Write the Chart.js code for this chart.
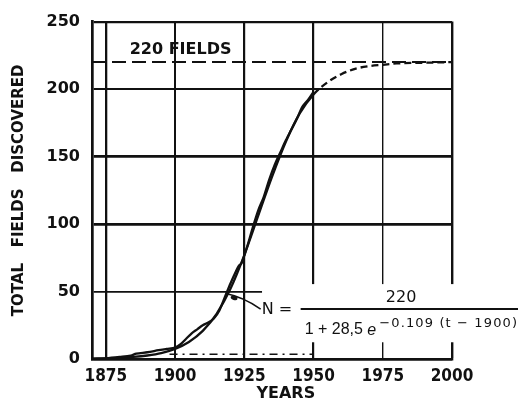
<!DOCTYPE html>
<html>
<head>
<meta charset="utf-8">
<script src="https://cdn.jsdelivr.net/npm/chart.js@4"></script>
<style>
  html, body { margin: 0; padding: 0; background: #fff; }
  canvas { display: block; }
</style>
</head>
<body>
<canvas id="myChart" width="522" height="401"></canvas>
<script>
// Cumulative discovered fields
const obsYears = [1870, 1875, 1880, 1884, 1886, 1890, 1894, 1897, 1900, 1902, 1904, 1906, 1908, 1910, 1912, 1914, 1916, 1918, 1920, 1922, 1923, 1924, 1926, 1928, 1930, 1932, 1934, 1936, 1938, 1940, 1942, 1944, 1946, 1948, 1950];
const obsValues = [0, 0.5, 1.5, 2.5, 4, 5, 6.5, 7.5, 8.5, 11, 15, 19, 22, 25, 27, 30, 36, 46, 56, 65, 69, 71, 83, 97, 110, 120, 133, 144, 153, 162, 170, 178, 187, 192, 198];

// Fitted logistic curve
const fitYears = [1870, 1875, 1880, 1885, 1890, 1895, 1900, 1905, 1910, 1915, 1920, 1925, 1930, 1935, 1940, 1945, 1950, 1955, 1960, 1965, 1970, 1975, 1980, 1990, 2000];
const fitValues = [0.3, 0.5, 0.9, 1.5, 2.6, 4.4, 7.5, 12.6, 20.8, 33.5, 52, 77, 106, 135, 161, 182, 196, 205, 211, 215, 217, 218, 219, 219.5, 220];

// Asymptote and low reference line
const limitYears = [1870, 2000];
const limitValues = [220, 220];
const baseYears = [1898, 1950];
const baseValues = [3.5, 3.5];

const xTicks = [1875, 1900, 1925, 1950, 1975, 2000];
const yTicks = [0, 50, 100, 150, 200, 250];

const ink = "#111";

const toPoints = (xs, ys) => xs.map((x, i) => ({ x: x, y: ys[i] }));

// draw a string spread out so it ends at xEnd
function spreadText(ctx, text, x0, xEnd, y) {
  const chars = Array.from(text);
  const natural = chars.reduce((w, ch) => w + ctx.measureText(ch).width, 0);
  const gap = (xEnd - x0 - natural) / (chars.length - 1);
  let x = x0;
  chars.forEach((ch) => {
    ctx.fillText(ch, x, y);
    x += ctx.measureText(ch).width + gap;
  });
}

// white patch behind the formula, breaking the grid like in the print
const formulaBox = {
  id: "formulaBox",
  beforeDatasetsDraw(chart) {
    const { ctx, scales } = chart;
    const x0 = scales.x.getPixelForValue(1931.4);
    const y0 = scales.y.getPixelForValue(55.5);
    const y1 = scales.y.getPixelForValue(12.4);
    ctx.save();
    ctx.fillStyle = "#fff";
    ctx.fillRect(x0, y0, chart.width - x0, y1 - y0);
    ctx.restore();
  },
  afterDraw(chart) {
    const { ctx, scales } = chart;
    const xs = scales.x, ys = scales.y;
    ctx.save();
    ctx.fillStyle = ink;
    ctx.strokeStyle = ink;

    // "220 FIELDS" label
    ctx.font = "bold 16px 'DejaVu Sans'";
    ctx.textAlign = "center";
    ctx.textBaseline = "middle";
    ctx.fillText("220 FIELDS", xs.getPixelForValue(1902), ys.getPixelForValue(229));

    // x axis title
    ctx.fillText("YEARS", xs.getPixelForValue(1940), chart.chartArea.bottom + 35);

    // leader from the curve to N
    const sx = xs.getPixelForValue(1918.3), sy = ys.getPixelForValue(48.5);
    const ex = xs.getPixelForValue(1930.9), ey = ys.getPixelForValue(37);
    ctx.lineWidth = 1.6;
    ctx.beginPath();
    ctx.moveTo(sx, sy);
    ctx.quadraticCurveTo(xs.getPixelForValue(1924.5), ys.getPixelForValue(46), ex, ey);
    ctx.stroke();
    ctx.beginPath();
    ctx.ellipse(xs.getPixelForValue(1921.3), ys.getPixelForValue(45.2), 3.5, 2, 0.35, 0, Math.PI * 2);
    ctx.fill();

    // formula
    const fy = ys.getPixelForValue(37);
    ctx.textAlign = "left";
    ctx.font = "16px 'DejaVu Sans'";
    ctx.fillText("N =", ex + 1, fy + 1);
    ctx.lineWidth = 2;
    ctx.beginPath();
    ctx.moveTo(ex + 40, fy);
    ctx.lineTo(chart.width - 4, fy);
    ctx.stroke();
    ctx.textAlign = "center";
    ctx.fillText("220", xs.getPixelForValue(1981.6), fy - 11);
    ctx.textAlign = "left";
    ctx.font = "16px 'Liberation Sans'";
    const den = "1 + 28,5 ";
    const dx = ex + 44;
    ctx.fillText(den, dx, fy + 21);
    const ew = ctx.measureText(den).width;
    ctx.font = "italic 16px 'Liberation Sans'";
    ctx.fillText("e", dx + ew, fy + 21);
    const px = dx + ew + ctx.measureText("e").width + 3;
    ctx.font = "13px 'DejaVu Sans'";
    spreadText(ctx, "\u22120.109 (t \u2212 1900)", px, chart.width - 5, fy + 15);
    ctx.restore();
  },
};

const gridWidthsY = { 0: 2.5, 50: 1.7, 100: 2.7, 150: 2.8, 200: 2, 250: 2.2 };
const gridWidthsX = { 1875: 2.3, 1900: 2, 1925: 2.2, 1950: 2.2, 1975: 1.4, 2000: 2.4 };

const ctx = document.getElementById("myChart").getContext("2d");
const chart = new Chart(ctx, {
  type: "line",
  data: {
    datasets: [
      {
        label: "Observed",
        data: toPoints(obsYears, obsValues),
        borderColor: ink,
        borderWidth: 2.3,
        pointRadius: 0,
        tension: 0.3,
      },
      {
        label: "Logistic fit",
        data: toPoints(fitYears, fitValues),
        borderColor: ink,
        borderWidth: 2.3,
        pointRadius: 0,
        cubicInterpolationMode: "monotone",
        segment: {
          borderDash: (c) => (c.p0.parsed.x >= 1950 ? [7, 4] : undefined),
        },
      },
      {
        label: "220 fields",
        data: toPoints(limitYears, limitValues),
        borderColor: ink,
        borderWidth: 2,
        borderDash: [14, 6],
        pointRadius: 0,
      },
      {
        label: "base",
        data: toPoints(baseYears, baseValues),
        borderColor: ink,
        borderWidth: 1.4,
        borderDash: [8, 5, 2, 5],
        pointRadius: 0,
      },
    ],
  },
  options: {
    responsive: false,
    animation: false,
    devicePixelRatio: 1,
    layout: { padding: { top: 17, right: 70, left: 0, bottom: 0 } },
    plugins: {
      legend: { display: false },
      tooltip: { enabled: false },
    },
    scales: {
      x: {
        type: "linear",
        min: 1870,
        max: 2000,
        afterBuildTicks: (s) => {
          s.ticks = xTicks.map((v) => ({ value: v }));
        },
        afterFit: (s) => {
          s.height = 42;
        },
        grid: {
          color: ink,
          lineWidth: (c) => gridWidthsX[c.tick && c.tick.value] || 2,
          drawTicks: false,
        },
        border: { display: true, color: ink, width: 2.6 },
        ticks: {
          color: ink,
          padding: 7,
          maxRotation: 0,
          autoSkip: false,
          callback: (v) => String(v),
          font: { family: "'Liberation Sans Narrow', 'DejaVu Sans Condensed'", size: 17, weight: "bold" },
        },
      },
      y: {
        min: 0,
        max: 250,
        afterBuildTicks: (s) => {
          s.ticks = yTicks.map((v) => ({ value: v }));
        },
        afterFit: (s) => {
          s.width = 92;
        },
        grid: {
          color: ink,
          lineWidth: (c) => gridWidthsY[c.tick && c.tick.value] || 2,
          drawTicks: false,
        },
        border: { display: true, color: ink, width: 2.7 },
        ticks: {
          color: ink,
          padding: 12,
          font: { family: "'DejaVu Sans'", size: 16, weight: "bold" },
        },
        title: {
          display: true,
          text: "TOTAL   FIELDS   DISCOVERED",
          color: ink,
          padding: { top: 10, bottom: 0 },
          font: { family: "'DejaVu Sans'", size: 15, weight: "bold" },
        },
      },
    },
  },
  plugins: [formulaBox],
});
</script>
</body>
</html>
